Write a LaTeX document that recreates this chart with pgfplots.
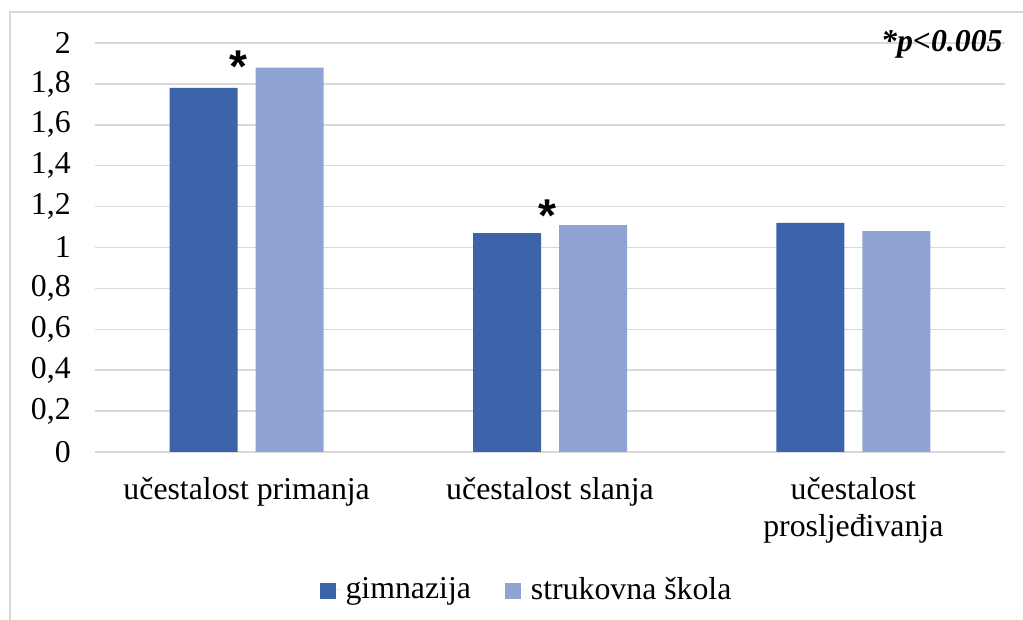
\documentclass[border=0pt]{standalone}
\usepackage{fontspec}
\setmainfont{Liberation Serif}
\newfontfamily\astfont{Liberation Sans}
\usepackage{pgfplots}
\pgfplotsset{compat=1.18}
\definecolor{darkb}{HTML}{3D64AB}
\definecolor{lightb}{HTML}{8FA3D4}
\definecolor{gridc}{HTML}{D9D9D9}
\begin{document}
\begin{tikzpicture}[font=\fontsize{15.9}{18.5}\selectfont]
\path[use as bounding box] (0,0) rectangle (511.5pt,310pt);
\draw[gridc, line width=0.75pt] (5pt,0) -- (5pt,304pt) -- (511.5pt,304pt);
\begin{axis}[
  at={(47.5pt,84pt)}, anchor=south west,
  width=455pt, height=204.5pt, scale only axis,
  ybar, bar width=34pt, ybar=9pt,
  enlargelimits=false,
  xmin=-0.5, xmax=2.5, ymin=0, ymax=2,
  xtick={0,1,2},
  xticklabels={učestalost primanja, učestalost slanja, {učestalost\\prosljeđivanja}},
  ytick={0,0.2,0.4,0.6,0.8,1,1.2,1.4,1.6,1.8,2},
  ymajorgrids, major grid style={gridc, line width=0.75pt},
  axis line style={draw=none}, major tick length=0,
  yticklabel style={xshift=-8.6pt, /pgf/number format/use comma, /pgf/number format/fixed, /pgf/number format/precision=1, /pgf/number format/assume math mode=true},
  xticklabel style={align=center, yshift=-9.4pt, font=\fontsize{15.9}{18.5}\selectfont},
  legend style={at={(0.4753,-0.337)}, anchor=center, draw=none, fill=none,
    legend columns=2, /tikz/every even column/.append style={column sep=15pt},
    legend cell align=left, font=\fontsize{15.9}{18.5}\selectfont},
  legend image code/.code={\fill[#1] (0pt,-4.5pt) rectangle (8pt,3.5pt); \path (0pt,0pt) -- (11pt,0pt);},
]
\addplot[fill=darkb, draw=none] coordinates {(0,1.78) (1,1.07) (2,1.12)};
\addplot[fill=lightb, draw=none] coordinates {(0,1.88) (1,1.11) (2,1.08)};
\legend{gimnazija, strukovna škola}
\node[font=\astfont\bfseries\fontsize{23}{23}\selectfont] at (axis cs:-0.0287,1.882) {*};
\node[font=\astfont\bfseries\fontsize{23}{23}\selectfont] at (axis cs:0.993,1.158) {*};
\end{axis}
\node[anchor=base east, inner sep=0, font=\fontsize{15.9}{18.5}\selectfont\bfseries\itshape] at (501.5pt,284pt) {*p<0.005};
\end{tikzpicture}
\end{document}
